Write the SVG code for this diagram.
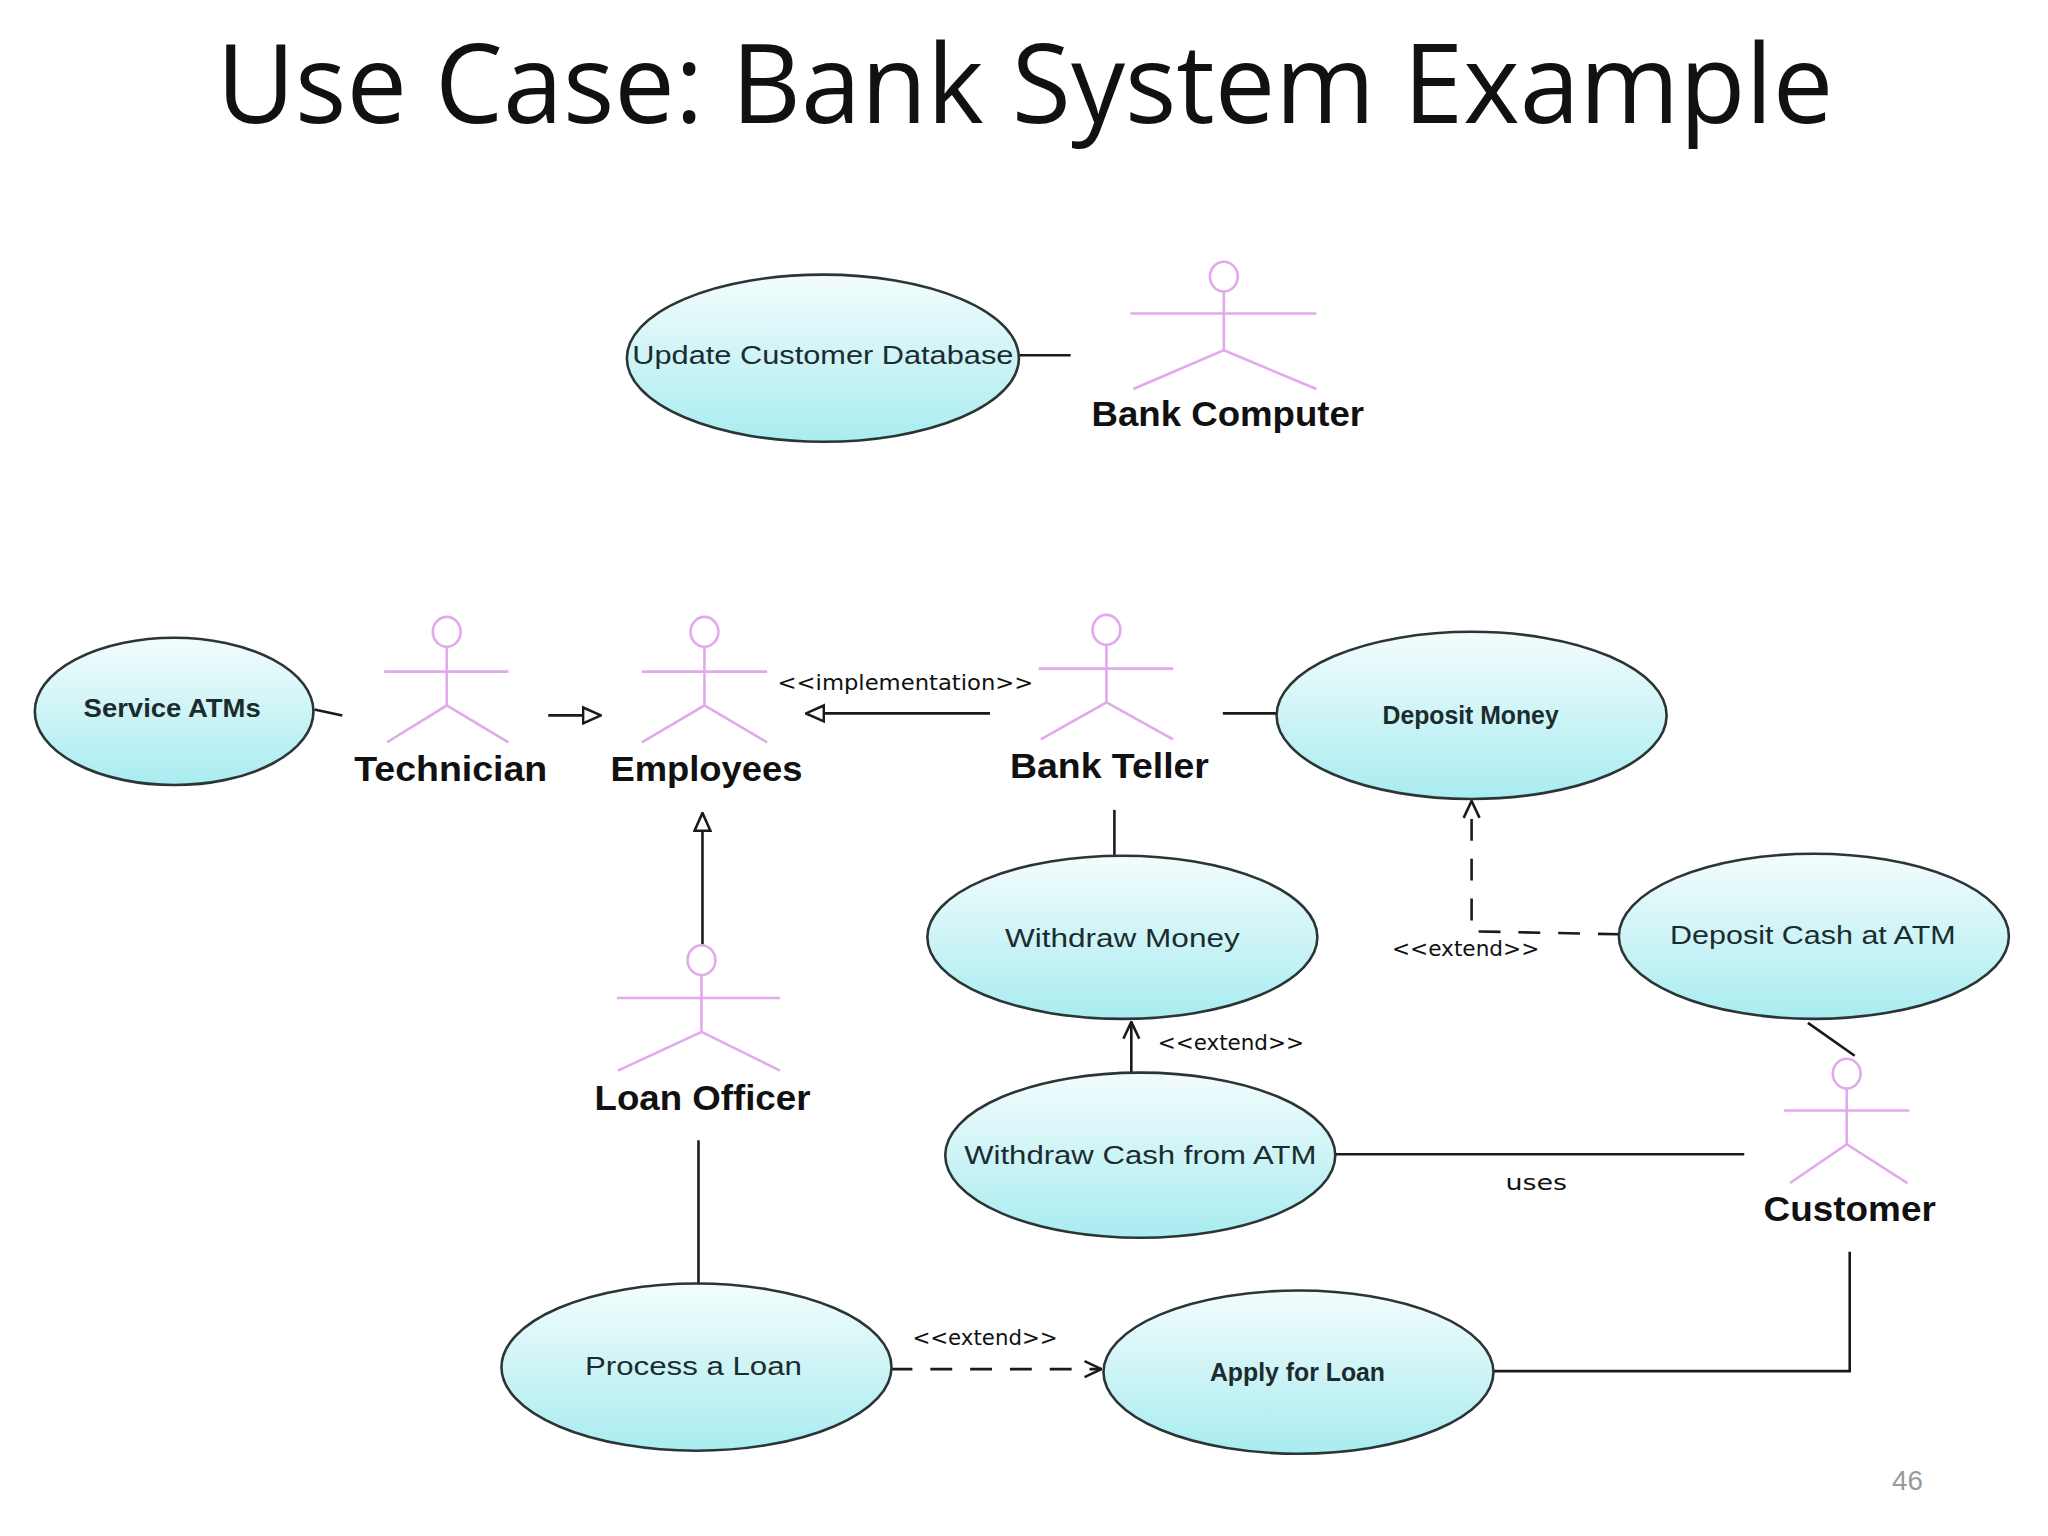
<svg xmlns="http://www.w3.org/2000/svg" width="2048" height="1536" viewBox="0 0 2048 1536">
<style>
.uc{stroke:#2b3535;stroke-width:2.6;fill:url(#ucg)}
.uct{font-family:"Liberation Sans",Arial,sans-serif;font-size:25px;fill:#1c2c2e;text-anchor:middle;dominant-baseline:central}
.ucb{font-weight:bold}
.act{stroke:#e2a9ec;stroke-width:2.6;fill:none}
.actl{font-family:"Liberation Sans",Arial,sans-serif;font-size:36px;font-weight:bold;fill:#111;text-anchor:middle}
.ln{stroke:#1a1a1a;stroke-width:2.6;fill:none}
.dash{stroke-dasharray:22 18}
.lbl{font-family:"DejaVu Sans","Liberation Sans",sans-serif;font-size:21px;fill:#111;text-anchor:middle}
</style>
<defs>
<linearGradient id="ucg" x1="0" y1="0" x2="0" y2="1">
<stop offset="0" stop-color="#f4fcfd"/>
<stop offset="1" stop-color="#a8ecf0"/>
</linearGradient>
<marker id="tri" viewBox="0 0 20 20" refX="19" refY="10" markerWidth="20" markerHeight="20" markerUnits="userSpaceOnUse" orient="auto">
<path d="M1,2 L19,10 L1,18 Z" fill="#fff" stroke="#1a1a1a" stroke-width="2.6"/>
</marker>
<marker id="open" viewBox="0 0 20 20" refX="19" refY="10" markerWidth="20" markerHeight="20" markerUnits="userSpaceOnUse" orient="auto">
<path d="M2,2 L19,10 L2,18" fill="none" stroke="#1a1a1a" stroke-width="2.6"/>
</marker>
</defs>
<rect width="2048" height="1536" fill="#ffffff"/>
<g id="diagram" transform="scale(0.995)">
<text x="1030" y="124" font-family="'Open Sans','Liberation Sans',sans-serif" font-size="110" fill="#111" text-anchor="middle" textLength="1625" lengthAdjust="spacingAndGlyphs">Use Case: Bank System Example</text>

<g id="connectors">
<line class="ln" x1="1024" y1="357" x2="1076" y2="357"/>
<line class="ln" x1="316" y1="713" x2="344" y2="719"/>
<line class="ln" x1="551" y1="719" x2="604" y2="719" marker-end="url(#tri)"/>
<line class="ln" x1="995" y1="717" x2="810" y2="717" marker-end="url(#tri)"/>
<text class="lbl" x="910" y="693" textLength="257" lengthAdjust="spacingAndGlyphs">&lt;&lt;implementation&gt;&gt;</text>
<line class="ln" x1="706" y1="950" x2="706" y2="817" marker-end="url(#tri)"/>
<line class="ln" x1="1229" y1="717" x2="1283" y2="717"/>
<line class="ln" x1="1120" y1="814" x2="1120" y2="860"/>
<path class="ln dash" d="M1628,939 L1479,936 L1479,805" marker-end="url(#open)"/>
<text class="lbl" x="1473" y="961" textLength="148" lengthAdjust="spacingAndGlyphs">&lt;&lt;extend&gt;&gt;</text>
<line class="ln" x1="1137" y1="1078" x2="1137" y2="1027" marker-end="url(#open)"/>
<text class="lbl" x="1237" y="1055" textLength="147" lengthAdjust="spacingAndGlyphs">&lt;&lt;extend&gt;&gt;</text>
<line class="ln" x1="1342" y1="1160" x2="1753" y2="1160"/>
<text class="lbl" x="1544" y="1196" textLength="62" lengthAdjust="spacingAndGlyphs">uses</text>
<line class="ln" x1="1817" y1="1028" x2="1864" y2="1061"/>
<line class="ln" x1="702" y1="1146" x2="702" y2="1290"/>
<line class="ln dash" x1="895" y1="1376" x2="1107" y2="1376" marker-end="url(#open)"/>
<text class="lbl" x="990" y="1352" textLength="146" lengthAdjust="spacingAndGlyphs">&lt;&lt;extend&gt;&gt;</text>
<path class="ln" d="M1859,1258 L1859,1378 L1500,1378"/>
</g>

<g id="uc-update">
<ellipse class="uc" cx="827" cy="360" rx="197" ry="84"/>
<text class="uct" x="827" y="357" textLength="383" lengthAdjust="spacingAndGlyphs">Update Customer Database</text>
</g>
<g id="uc-service">
<ellipse class="uc" cx="175" cy="715" rx="140" ry="74"/>
<text class="uct ucb" x="173" y="712" font-size="24" textLength="178" lengthAdjust="spacingAndGlyphs">Service ATMs</text>
</g>
<g id="uc-deposit-money">
<ellipse class="uc" cx="1479" cy="719" rx="196" ry="84"/>
<text class="uct ucb" x="1478" y="719" font-size="20" textLength="177" lengthAdjust="spacingAndGlyphs">Deposit Money</text>
</g>
<g id="uc-withdraw-money">
<ellipse class="uc" cx="1128" cy="942" rx="196" ry="82"/>
<text class="uct" x="1128" y="943" textLength="236" lengthAdjust="spacingAndGlyphs">Withdraw Money</text>
</g>
<g id="uc-deposit-cash">
<ellipse class="uc" cx="1823" cy="941" rx="196" ry="83"/>
<text class="uct" x="1822" y="940" textLength="287" lengthAdjust="spacingAndGlyphs">Deposit Cash at ATM</text>
</g>
<g id="uc-withdraw-cash">
<ellipse class="uc" cx="1146" cy="1161" rx="196" ry="83"/>
<text class="uct" x="1146" y="1161" textLength="354" lengthAdjust="spacingAndGlyphs">Withdraw Cash from ATM</text>
</g>
<g id="uc-process-loan">
<ellipse class="uc" cx="700" cy="1374" rx="196" ry="84"/>
<text class="uct" x="697" y="1373" textLength="218" lengthAdjust="spacingAndGlyphs">Process a Loan</text>
</g>
<g id="uc-apply-loan">
<ellipse class="uc" cx="1305" cy="1379" rx="196" ry="82"/>
<text class="uct ucb" x="1304" y="1379" font-size="20" textLength="176" lengthAdjust="spacingAndGlyphs">Apply for Loan</text>
</g>

<g id="actor-bank-computer">
<ellipse class="act" cx="1230" cy="278" rx="14" ry="15"/>
<path class="act" d="M1136,315 H1323 M1230,293 V352 L1139,391 M1230,352 L1323,391"/>
<text class="actl" x="1234" y="428" textLength="274" lengthAdjust="spacingAndGlyphs">Bank Computer</text>
</g>
<g id="actor-technician">
<ellipse class="act" cx="449" cy="635" rx="14" ry="15"/>
<path class="act" d="M386,675 H511 M449,650 V709 L389,746 M449,709 L511,746"/>
<text class="actl" x="453" y="785" textLength="194" lengthAdjust="spacingAndGlyphs">Technician</text>
</g>
<g id="actor-employees">
<ellipse class="act" cx="708" cy="635" rx="14" ry="15"/>
<path class="act" d="M645,675 H771 M708,650 V709 L645,746 M708,709 L771,746"/>
<text class="actl" x="710" y="785" textLength="193" lengthAdjust="spacingAndGlyphs">Employees</text>
</g>
<g id="actor-bank-teller">
<ellipse class="act" cx="1112" cy="633" rx="14" ry="15"/>
<path class="act" d="M1044,672 H1179 M1112,648 V706 L1046,743 M1112,706 L1179,743"/>
<text class="actl" x="1115" y="782" textLength="200" lengthAdjust="spacingAndGlyphs">Bank Teller</text>
</g>
<g id="actor-loan-officer">
<ellipse class="act" cx="705" cy="965" rx="14" ry="15"/>
<path class="act" d="M620,1003 H784 M705,980 V1037 L621,1076 M705,1037 L784,1076"/>
<text class="actl" x="706" y="1116" textLength="217" lengthAdjust="spacingAndGlyphs">Loan Officer</text>
</g>
<g id="actor-customer">
<ellipse class="act" cx="1856" cy="1079" rx="14" ry="15"/>
<path class="act" d="M1793,1116 H1919 M1856,1094 V1150 L1799,1189 M1856,1150 L1917,1189"/>
<text class="actl" x="1859" y="1227" textLength="173" lengthAdjust="spacingAndGlyphs">Customer</text>
</g>

<text x="1917" y="1497" font-family="'Liberation Sans',sans-serif" font-size="28" fill="#9a9a9a" text-anchor="middle">46</text>
</g>
</svg>
